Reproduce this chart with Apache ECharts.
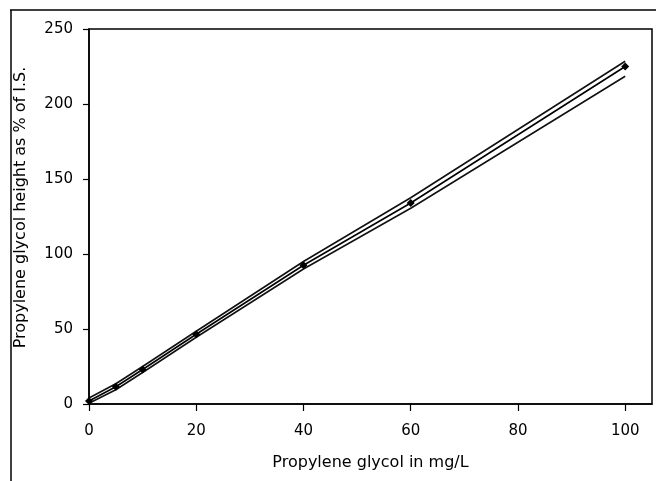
<!DOCTYPE html>
<html>
<head>
<meta charset="utf-8">
<script src="https://cdn.jsdelivr.net/npm/echarts@6/dist/echarts.min.js"></script>
<style>
html,body{margin:0;padding:0;background:#fff;}
#chart{width:656px;height:481px;}
</style>
</head>
<body>
<div id="chart"></div>
<script>
// Concentration levels (mg/L)
var concentrations = [0, 5, 10, 20, 40, 60, 100];
// Mean response (% of I.S.)
var meanValues = [2, 11.5, 23, 46.5, 92.5, 134, 225];
// Upper and lower bands
var upperValues = [4, 13.5, 25, 48.5, 95, 137.5, 228.5];
var lowerValues = [0.5, 9.5, 21, 44.5, 90, 130.5, 218.5];
// Axis ticks
var xTicks = [0, 20, 40, 60, 80, 100];
var yTicks = [0, 50, 100, 150, 200, 250];

function pairs(xs, ys) { return xs.map(function (x, i) { return [x, ys[i]]; }); }

var chart = echarts.init(document.getElementById('chart'), null, { renderer: 'canvas' });
var font = 'DejaVu Sans';
var option = {
  animation: false,
  backgroundColor: '#fff',
  grid: { left: 89, right: 4, top: 29, bottom: 77, show: true, borderColor: '#000', borderWidth: 1.5, backgroundColor: 'transparent' },
  xAxis: {
    type: 'value', min: 0, max: 105, interval: 20,
    name: 'Propylene glycol in mg/L', nameLocation: 'middle', nameGap: 51,
    nameTextStyle: { fontFamily: font, fontSize: 16, color: '#000' },
    axisLine: { show: true, lineStyle: { color: '#000', width: 1.5 } },
    axisTick: { show: true, length: 7, inside: false, lineStyle: { color: '#000', width: 1.2 } },
    axisLabel: { showMaxLabel: false, margin: 20, fontFamily: font, fontSize: 15, color: '#000',
      formatter: function (v) { return xTicks.indexOf(v) >= 0 ? String(v) : ''; } },
    splitLine: { show: false }
  },
  yAxis: {
    type: 'value', min: 0, max: 250, interval: 50,
    name: 'Propylene glycol height as % of I.S.', nameLocation: 'middle', nameGap: 60,
    nameTextStyle: { fontFamily: font, fontSize: 16, color: '#000', padding: [0, 0, 0, 18] },
    axisLine: { show: true, lineStyle: { color: '#000', width: 1.5 } },
    axisTick: { show: true, length: 6, inside: false, lineStyle: { color: '#000', width: 1.2 } },
    axisLabel: { margin: 16, fontFamily: font, fontSize: 15, color: '#000',
      formatter: function (v) { return yTicks.indexOf(v) >= 0 ? String(v) : ''; } },
    splitLine: { show: false }
  },
  series: [
    { name: 'Upper', type: 'line', data: pairs(concentrations, upperValues), symbol: 'none',
      lineStyle: { color: '#111', width: 1.6 }, z: 2 },
    { name: 'Lower', type: 'line', data: pairs(concentrations, lowerValues), symbol: 'none',
      lineStyle: { color: '#111', width: 1.6 }, z: 2 },
    { name: 'Mean', type: 'line', data: pairs(concentrations, meanValues), symbol: 'diamond', symbolSize: 8,
      itemStyle: { color: '#000' }, lineStyle: { color: '#000', width: 1.6 }, z: 3 }
  ],
  graphic: [
    { type: 'line', shape: { x1: 10, y1: 10, x2: 656, y2: 10 }, style: { stroke: '#000', lineWidth: 1.5 }, silent: true },
    { type: 'line', shape: { x1: 11, y1: 10, x2: 11, y2: 481 }, style: { stroke: '#000', lineWidth: 1.5 }, silent: true }
  ]
};
chart.setOption(option);
</script>
</body>
</html>
